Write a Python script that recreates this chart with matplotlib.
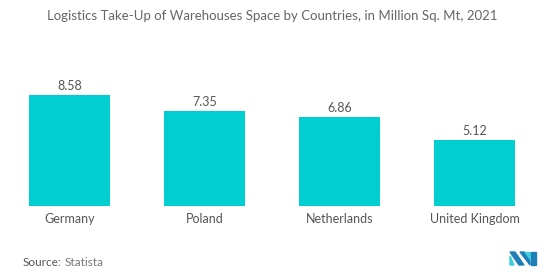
import matplotlib.pyplot as plt
from matplotlib.patches import Polygon

categories = ["Germany", "Poland", "Netherlands", "United Kingdom"]
values = [8.58, 7.35, 6.86, 5.12]
labels = ["8.58", "7.35", "6.86", "5.12"]

W, H = 550, 277
fig = plt.figure(figsize=(5.5, 2.77), dpi=100)
plt.rcParams['font.family'] = ['Lato', 'DejaVu Sans']

# axes: x from 2 to 542 px, y from 80 to 206 px (top origin)
ax = fig.add_axes([2 / W, 1 - 206 / H, 540 / W, 126 / H])
bars = ax.bar(range(len(categories)), values, width=0.6, color="#00CED1")
ax.set_xlim(-0.5, 3.5)
ax.set_ylim(0, 126 / 12.94)
for b, t in zip(bars, labels):
    ax.text(b.get_x() + b.get_width() / 2, b.get_height() + 0.25, t,
            ha="center", va="bottom", fontsize=9, color="#555555")
ax.set_xticks(range(len(categories)))
ax.set_xticklabels(categories, fontsize=9, color="#555555")
ax.tick_params(axis="x", length=0, pad=5)
ax.set_yticks([])
for s in ax.spines.values():
    s.set_visible(False)

fig.text(272 / W, 1 - 16 / H,
         "Logistics Take-Up of Warehouses Space by Countries, in Million Sq. Mt, 2021",
         ha="center", va="center", fontsize=9.5, color="#666666")
fig.text(23 / W, 1 - 262 / H, "Source:", ha="left", va="center", fontsize=8.5, color="#555555")
fig.text(65 / W, 1 - 262 / H, "Statista", ha="left", va="center", fontsize=8.5, color="#777777")

# logo
def px(pts):
    return [(x / W, 1 - y / H) for x, y in pts]

dark = "#1F7FB8"
cyan = "#3CCFD8"
shapes = [
    ([(510, 252), (515, 252), (524, 265), (519, 265)], dark),
    ([(510, 256), (514, 265), (510, 265)], cyan),
    ([(520, 252), (524, 252), (530, 261), (530, 265)], dark),
    ([(525, 252), (530, 252), (530, 259)], cyan),
    ([(531, 252), (536, 252), (536, 265), (531, 265)], dark),
]
for pts, c in shapes:
    fig.patches.append(Polygon(px(pts), closed=True, color=c, transform=fig.transFigure))

fig.savefig("out.png", dpi=100)
